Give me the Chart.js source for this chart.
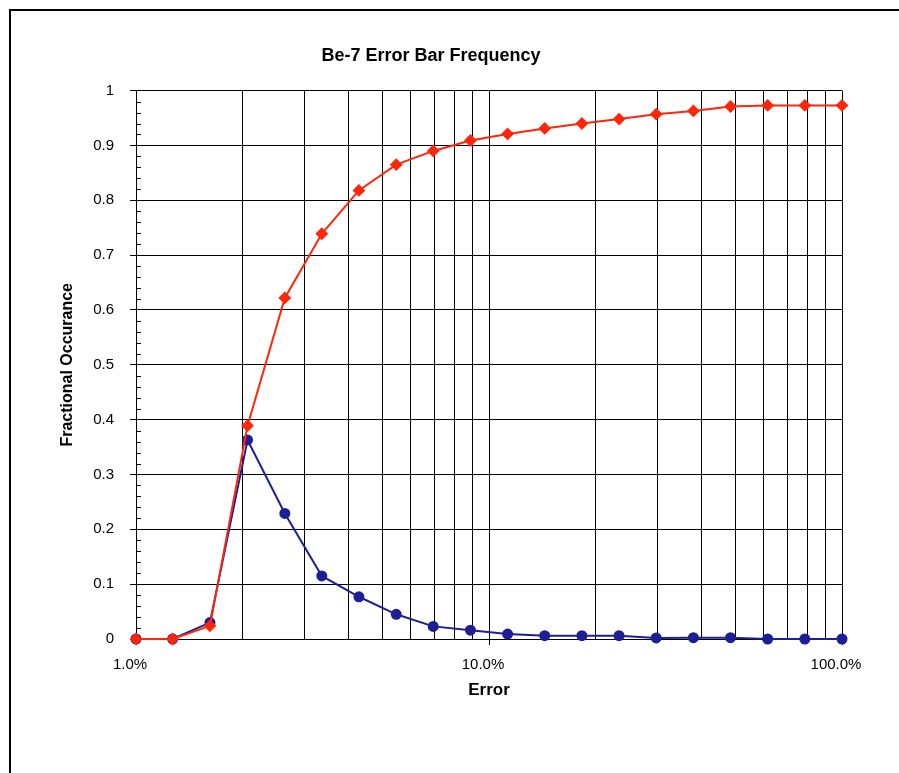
<!DOCTYPE html>
<html>
<head>
<meta charset="utf-8">
<script src="https://cdn.jsdelivr.net/npm/chart.js@4"></script>
<style>
  body { margin: 0; background: #fff; overflow: hidden; }
  #frame { position: absolute; left: 9px; top: 9px; width: 1000px; height: 1000px; border: 2px solid #000; }
  #be7 { position: absolute; left: 0; top: 0; }
</style>
</head>
<body>
<div id="frame"></div>
<canvas id="be7" width="899" height="773"></canvas>
<script>
// Be-7 error bar frequency

// error (as fraction) for each bin
var errorBins = [0.01, 0.0127, 0.0162, 0.0207, 0.0264, 0.0336, 0.0428, 0.0546, 0.0695, 0.0886,
                 0.1129, 0.1438, 0.1833, 0.2336, 0.2976, 0.3793, 0.4833, 0.6158, 0.7848, 1.0];
// fraction of points in each bin
var binFraction = [0, 0, 0.030, 0.363, 0.229, 0.115, 0.077, 0.045, 0.023, 0.016,
                   0.009, 0.006, 0.006, 0.006, 0.002, 0.0025, 0.0025, 0, 0, 0];
// running total
var cumulFraction = [0, 0, 0.024, 0.389, 0.622, 0.739, 0.818, 0.865, 0.890, 0.909,
                     0.921, 0.931, 0.940, 0.948, 0.957, 0.963, 0.971, 0.973, 0.973, 0.973];
// log grid lines on the x axis, labelled only at the decades
var xGrid = [0.01, 0.02, 0.03, 0.04, 0.05, 0.06, 0.07, 0.08, 0.09,
             0.1, 0.2, 0.3, 0.4, 0.5, 0.6, 0.7, 0.8, 0.9, 1];
var xLabelled = [0.01, 0.1, 1];

var minorTicks = {
    id: "minorTicks",
    afterDraw: function (chart) {
        var y = chart.scales.y, ctx = chart.ctx;
        var x0 = chart.chartArea.left;
        ctx.save();
        ctx.strokeStyle = "#000";
        ctx.lineWidth = 1;
        ctx.beginPath();
        for (var i = 1; i < 50; i++) {
            if (i % 5 == 0) continue;
            var py = Math.round(y.getPixelForValue(i * 0.02)) + 0.5;
            ctx.moveTo(x0, py);
            ctx.lineTo(x0 + 5, py);
        }
        ctx.stroke();
        ctx.restore();
    }
};

document.addEventListener("DOMContentLoaded", function () {
    var pts = function (vals) {
        return errorBins.map(function (x, i) { return { x: x, y: vals[i] }; });
    };

    new Chart("be7", {
        type: "line",
        data: {
            datasets: [{
                label: "Cumulative",
                data: pts(cumulFraction),
                borderColor: "rgb(255, 38, 10)",
                backgroundColor: "rgb(255, 38, 10)",
                borderWidth: 2,
                pointStyle: "rectRot",
                pointRadius: 5,
                lineTension: 0,
                fill: false,
                clip: 8
            }, {
                label: "Frequency",
                data: pts(binFraction),
                borderColor: "rgb(30, 30, 150)",
                backgroundColor: "rgb(30, 30, 150)",
                borderWidth: 2,
                pointStyle: "circle",
                pointRadius: 4.5,
                lineTension: 0,
                fill: false,
                clip: 8
            }]
        },
        options: {
            responsive: false,
            animation: false,
            devicePixelRatio: 1,
            layout: { padding: { left: 20, right: 57, top: 0, bottom: 0 } },
            plugins: {
                legend: { display: false },
                tooltip: { enabled: false },
                title: {
                    display: true,
                    text: "Be-7 Error Bar Frequency",
                    color: "#000",
                    font: { family: "Liberation Sans", size: 18, weight: "bold" },
                    padding: { top: 45, bottom: 24 }
                }
            },
            scales: {
                x: {
                    type: "logarithmic",
                    min: 0.01,
                    max: 1,
                    afterFit: function (s) { s.height = 134; },
                    afterBuildTicks: function (s) {
                        s.ticks = xGrid.map(function (v) { return { value: v }; });
                    },
                    ticks: {
                        autoSkip: false,
                        maxRotation: 0,
                        padding: 11,
                        labelOffset: -6,
                        color: "#000",
                        font: { family: "Liberation Sans", size: 15 },
                        callback: function (v) {
                            return xLabelled.indexOf(v) >= 0 ? (v * 100).toFixed(1) + "%" : "";
                        }
                    },
                    grid: {
                        color: "#000",
                        lineWidth: 1,
                        tickLength: 6,
                        tickColor: function (c) {
                            return xLabelled.indexOf(c.tick && c.tick.value) >= 0 ? "#000" : "rgba(0,0,0,0)";
                        }
                    },
                    border: { display: true, color: "#000", width: 1 },
                    title: {
                        display: true,
                        text: "Error",
                        color: "#000",
                        font: { family: "Liberation Sans", size: 17, weight: "bold" },
                        padding: { top: 4, bottom: 72 }
                    }
                },
                y: {
                    min: 0,
                    max: 1,
                    afterFit: function (s) { s.width = 116; },
                    ticks: {
                        stepSize: 0.1,
                        padding: 16,
                        color: "#000",
                        font: { family: "Liberation Sans", size: 15 },
                        callback: function (v) { return String(Number(v.toFixed(1))); }
                    },
                    grid: { color: "#000", lineWidth: 1, tickLength: 6, tickColor: "#000" },
                    border: { display: true, color: "#000", width: 1 },
                    title: {
                        display: true,
                        text: "Fractional Occurance",
                        color: "#000",
                        font: { family: "Liberation Sans", size: 16, weight: "bold" },
                        padding: { top: 38, bottom: 4 }
                    }
                }
            }
        },
        plugins: [minorTicks]
    });
});
</script>
</body>
</html>
